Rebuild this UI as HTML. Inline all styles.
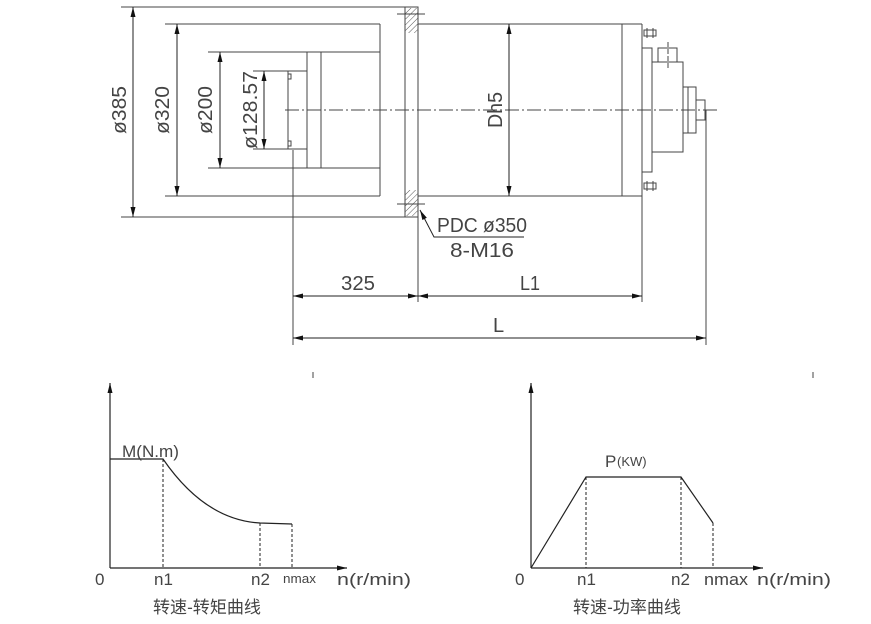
<!DOCTYPE html>
<html><head><meta charset="utf-8"><style>
html,body{margin:0;padding:0;background:#fff;}
svg{display:block;}
text{font-family:"Liberation Sans","Noto Sans CJK SC",sans-serif;fill:#444;}
</style></head><body>
<svg width="871" height="624" viewBox="0 0 871 624" xmlns="http://www.w3.org/2000/svg">
<defs>
<marker id="a" viewBox="0 0 10 6" refX="10" refY="3" markerWidth="11" markerHeight="6" orient="auto-start-reverse" markerUnits="userSpaceOnUse"><path d="M0,0.5L10,3L0,5.5z" fill="#111"/></marker>
<pattern id="h" width="4" height="4" patternUnits="userSpaceOnUse" patternTransform="rotate(45)"><line x1="0" y1="0" x2="0" y2="4" stroke="#555" stroke-width="1"/></pattern>
</defs>
<g stroke="#444" stroke-width="1" fill="none">
<line x1="121" y1="7" x2="418" y2="7"/>
<line x1="121" y1="217" x2="418" y2="217"/>
<line x1="165" y1="24" x2="380" y2="24"/>
<line x1="165" y1="196" x2="380" y2="196"/>
<line x1="208" y1="52" x2="380" y2="52"/>
<line x1="208" y1="168" x2="380" y2="168"/>
<line x1="253" y1="71" x2="307" y2="71"/>
<line x1="253" y1="149" x2="307" y2="149"/>
<line x1="307" y1="52" x2="307" y2="168"/>
<line x1="321" y1="52" x2="321" y2="168"/>
<line x1="380" y1="24" x2="380" y2="196"/>
<line x1="288" y1="71" x2="288" y2="149"/>
<path d="M288,74h3v5h-3M288,141h3v5h-3"/>
<rect x="405" y="7" width="13" height="210"/>
<rect x="405" y="8" width="13" height="25" fill="url(#h)" stroke="none"/>
<rect x="405" y="190" width="13" height="26" fill="url(#h)" stroke="none"/>
<line x1="397" y1="14" x2="425" y2="14"/><line x1="397" y1="204" x2="425" y2="204"/>
<line x1="418" y1="24" x2="642" y2="24"/>
<line x1="418" y1="196" x2="642" y2="196"/>
<line x1="642" y1="24" x2="642" y2="196"/>
<line x1="622" y1="24" x2="622" y2="196"/>
<rect x="642" y="48" width="10" height="124"/>
<rect x="652" y="62" width="31" height="90"/>
<rect x="658" y="48" width="19" height="14"/>
<line x1="668" y1="42" x2="668" y2="68" stroke-dasharray="5,2"/>
<rect x="683" y="87" width="13" height="46"/>
<line x1="688" y1="87" x2="688" y2="133"/>
<rect x="696" y="100" width="9" height="20"/>
<path d="M644,30h12v6h-12zM644,183h12v6h-12z"/>
<line x1="647" y1="28" x2="647" y2="38"/><line x1="653" y1="28" x2="653" y2="38"/>
<line x1="647" y1="181" x2="647" y2="191"/><line x1="653" y1="181" x2="653" y2="191"/>
<line x1="285" y1="110" x2="720" y2="110" stroke-dasharray="14,3,2,3"/>
<line x1="293" y1="150" x2="293" y2="345"/>
<line x1="418" y1="217" x2="418" y2="302"/>
<line x1="642" y1="196" x2="642" y2="302"/>
<line x1="706" y1="110" x2="706" y2="345"/>
</g>
<g stroke="#222" stroke-width="1" fill="none" marker-start="url(#a)" marker-end="url(#a)">
<line x1="133" y1="7" x2="133" y2="217"/>
<line x1="177" y1="24" x2="177" y2="196"/>
<line x1="220" y1="52" x2="220" y2="168"/>
<line x1="264" y1="71" x2="264" y2="149"/>
<line x1="509" y1="24" x2="509" y2="196"/>
<line x1="293" y1="296" x2="418" y2="296"/>
<line x1="418" y1="296" x2="642" y2="296"/>
<line x1="293" y1="338" x2="706" y2="338"/>
</g>
<g stroke="#222" fill="none">
<path d="M524,237H434L420,210" marker-end="url(#a)"/>
</g>
<g font-size="20">
<text transform="translate(126,110) rotate(-90)" text-anchor="middle" textLength="48" lengthAdjust="spacingAndGlyphs">ø385</text>
<text transform="translate(169,110) rotate(-90)" text-anchor="middle" textLength="48" lengthAdjust="spacingAndGlyphs">ø320</text>
<text transform="translate(212,110) rotate(-90)" text-anchor="middle" textLength="48" lengthAdjust="spacingAndGlyphs">ø200</text>
<text transform="translate(257,110) rotate(-90)" text-anchor="middle" textLength="78" lengthAdjust="spacingAndGlyphs">ø128.57</text>
<text transform="translate(502,110) rotate(-90)" text-anchor="middle" textLength="36" lengthAdjust="spacingAndGlyphs">Dh5</text>
<text x="437" y="232" textLength="90" lengthAdjust="spacingAndGlyphs">PDC ø350</text>
<text x="450" y="257" textLength="64" lengthAdjust="spacingAndGlyphs">8-M16</text>
<text x="341" y="290" textLength="34" lengthAdjust="spacingAndGlyphs">325</text>
<text x="520" y="290" textLength="20" lengthAdjust="spacingAndGlyphs">L1</text>
<text x="493" y="332">L</text>
</g>
<line x1="313" y1="372" x2="313" y2="378" stroke="#444"/>
<line x1="813" y1="372" x2="813" y2="378" stroke="#444"/>
<g stroke="#222" fill="none" stroke-width="1.2">
<line x1="110" y1="568" x2="110" y2="383" marker-end="url(#a)"/>
<line x1="110" y1="568" x2="347" y2="568" marker-end="url(#a)"/>
<path d="M110,459H163Q205,520 260,523L292,524"/>
<g stroke-dasharray="3,2" stroke-width="1"><line x1="163" y1="459" x2="163" y2="568"/><line x1="260" y1="523" x2="260" y2="568"/><line x1="292" y1="524" x2="292" y2="568"/></g>
</g>
<g font-size="17">
<text x="122" y="457" textLength="57" lengthAdjust="spacingAndGlyphs">M(N.m)</text>
<text x="95" y="585">0</text>
<text x="154" y="585">n1</text>
<text x="251" y="585">n2</text>
<text x="283" y="583" font-size="13" textLength="33" lengthAdjust="spacingAndGlyphs">nmax</text>
<text x="337" y="585" textLength="74" lengthAdjust="spacingAndGlyphs">n(r/min)</text>
<text x="153" y="613" textLength="108" lengthAdjust="spacingAndGlyphs">转速-转矩曲线</text>
</g>
<g stroke="#222" fill="none" stroke-width="1.2">
<line x1="531" y1="568" x2="531" y2="383" marker-end="url(#a)"/>
<line x1="531" y1="568" x2="763" y2="568" marker-end="url(#a)"/>
<path d="M531,568L586,477H681L713,523"/>
<g stroke-dasharray="3,2" stroke-width="1"><line x1="586" y1="477" x2="586" y2="568"/><line x1="681" y1="477" x2="681" y2="568"/><line x1="713" y1="523" x2="713" y2="568"/></g>
</g>
<g font-size="17">
<text x="605" y="467">P</text><text x="617" y="466" font-size="13">(KW)</text>
<text x="515" y="585">0</text>
<text x="577" y="585">n1</text>
<text x="671" y="585">n2</text>
<text x="704" y="585" textLength="44" lengthAdjust="spacingAndGlyphs">nmax</text>
<text x="757" y="585" textLength="74" lengthAdjust="spacingAndGlyphs">n(r/min)</text>
<text x="573" y="613" textLength="108" lengthAdjust="spacingAndGlyphs">转速-功率曲线</text>
</g>
</svg>
</body></html>
